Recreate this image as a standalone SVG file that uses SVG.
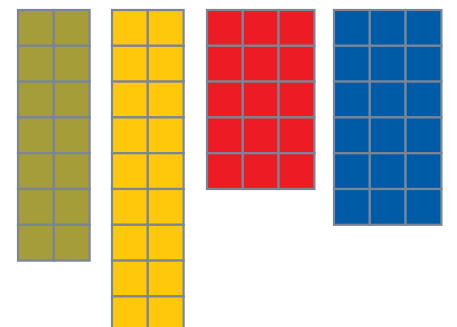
<svg xmlns="http://www.w3.org/2000/svg" width="457" height="327" viewBox="0 0 457 327">
<defs>
<style>
.c{stroke:#7a8597;stroke-width:2.2;}
.o{fill:#a59d3a;}
.y{fill:#ffc80a;}
.r{fill:#ed1c24;}
.b{fill:#005ba6;}
</style>
<pattern id="po" width="35.8" height="35.8" patternUnits="userSpaceOnUse" x="18" y="10"><rect width="35.8" height="35.8" class="c o"/></pattern>
</defs>
<rect width="457" height="327" fill="#ffffff"/>
<g id="olive">
<rect class="c o" x="18" y="10" width="35.8" height="35.8"/><rect class="c o" x="53.8" y="10" width="35.8" height="35.8"/>
<rect class="c o" x="18" y="45.8" width="35.8" height="35.8"/><rect class="c o" x="53.8" y="45.8" width="35.8" height="35.8"/>
<rect class="c o" x="18" y="81.6" width="35.8" height="35.8"/><rect class="c o" x="53.8" y="81.6" width="35.8" height="35.8"/>
<rect class="c o" x="18" y="117.4" width="35.8" height="35.8"/><rect class="c o" x="53.8" y="117.4" width="35.8" height="35.8"/>
<rect class="c o" x="18" y="153.2" width="35.8" height="35.8"/><rect class="c o" x="53.8" y="153.2" width="35.8" height="35.8"/>
<rect class="c o" x="18" y="189" width="35.8" height="35.8"/><rect class="c o" x="53.8" y="189" width="35.8" height="35.8"/>
<rect class="c o" x="18" y="224.8" width="35.8" height="35.8"/><rect class="c o" x="53.8" y="224.8" width="35.8" height="35.8"/>
</g>
<g id="yellow">
<rect class="c y" x="112" y="10" width="35.8" height="35.8"/><rect class="c y" x="147.8" y="10" width="35.8" height="35.8"/>
<rect class="c y" x="112" y="45.8" width="35.8" height="35.8"/><rect class="c y" x="147.8" y="45.8" width="35.8" height="35.8"/>
<rect class="c y" x="112" y="81.6" width="35.8" height="35.8"/><rect class="c y" x="147.8" y="81.6" width="35.8" height="35.8"/>
<rect class="c y" x="112" y="117.4" width="35.8" height="35.8"/><rect class="c y" x="147.8" y="117.4" width="35.8" height="35.8"/>
<rect class="c y" x="112" y="153.2" width="35.8" height="35.8"/><rect class="c y" x="147.8" y="153.2" width="35.8" height="35.8"/>
<rect class="c y" x="112" y="189" width="35.8" height="35.8"/><rect class="c y" x="147.8" y="189" width="35.8" height="35.8"/>
<rect class="c y" x="112" y="224.8" width="35.8" height="35.8"/><rect class="c y" x="147.8" y="224.8" width="35.8" height="35.8"/>
<rect class="c y" x="112" y="260.6" width="35.8" height="35.8"/><rect class="c y" x="147.8" y="260.6" width="35.8" height="35.8"/>
<rect class="c y" x="112" y="296.4" width="35.8" height="35.8"/><rect class="c y" x="147.8" y="296.4" width="35.8" height="35.8"/>
</g>
<g id="red">
<rect class="c r" x="207" y="10" width="35.8" height="35.8"/><rect class="c r" x="242.8" y="10" width="35.8" height="35.8"/><rect class="c r" x="278.6" y="10" width="35.8" height="35.8"/>
<rect class="c r" x="207" y="45.8" width="35.8" height="35.8"/><rect class="c r" x="242.8" y="45.8" width="35.8" height="35.8"/><rect class="c r" x="278.6" y="45.8" width="35.8" height="35.8"/>
<rect class="c r" x="207" y="81.6" width="35.8" height="35.8"/><rect class="c r" x="242.8" y="81.6" width="35.8" height="35.8"/><rect class="c r" x="278.6" y="81.6" width="35.8" height="35.8"/>
<rect class="c r" x="207" y="117.4" width="35.8" height="35.8"/><rect class="c r" x="242.8" y="117.4" width="35.8" height="35.8"/><rect class="c r" x="278.6" y="117.4" width="35.8" height="35.8"/>
<rect class="c r" x="207" y="153.2" width="35.8" height="35.8"/><rect class="c r" x="242.8" y="153.2" width="35.8" height="35.8"/><rect class="c r" x="278.6" y="153.2" width="35.8" height="35.8"/>
</g>
<g id="blue">
<rect class="c b" x="334" y="10" width="35.8" height="35.8"/><rect class="c b" x="369.8" y="10" width="35.8" height="35.8"/><rect class="c b" x="405.6" y="10" width="35.8" height="35.8"/>
<rect class="c b" x="334" y="45.8" width="35.8" height="35.8"/><rect class="c b" x="369.8" y="45.8" width="35.8" height="35.8"/><rect class="c b" x="405.6" y="45.8" width="35.8" height="35.8"/>
<rect class="c b" x="334" y="81.6" width="35.8" height="35.8"/><rect class="c b" x="369.8" y="81.6" width="35.8" height="35.8"/><rect class="c b" x="405.6" y="81.6" width="35.8" height="35.8"/>
<rect class="c b" x="334" y="117.4" width="35.8" height="35.8"/><rect class="c b" x="369.8" y="117.4" width="35.8" height="35.8"/><rect class="c b" x="405.6" y="117.4" width="35.8" height="35.8"/>
<rect class="c b" x="334" y="153.2" width="35.8" height="35.8"/><rect class="c b" x="369.8" y="153.2" width="35.8" height="35.8"/><rect class="c b" x="405.6" y="153.2" width="35.8" height="35.8"/>
<rect class="c b" x="334" y="189" width="35.8" height="35.8"/><rect class="c b" x="369.8" y="189" width="35.8" height="35.8"/><rect class="c b" x="405.6" y="189" width="35.8" height="35.8"/>
</g>
</svg>
